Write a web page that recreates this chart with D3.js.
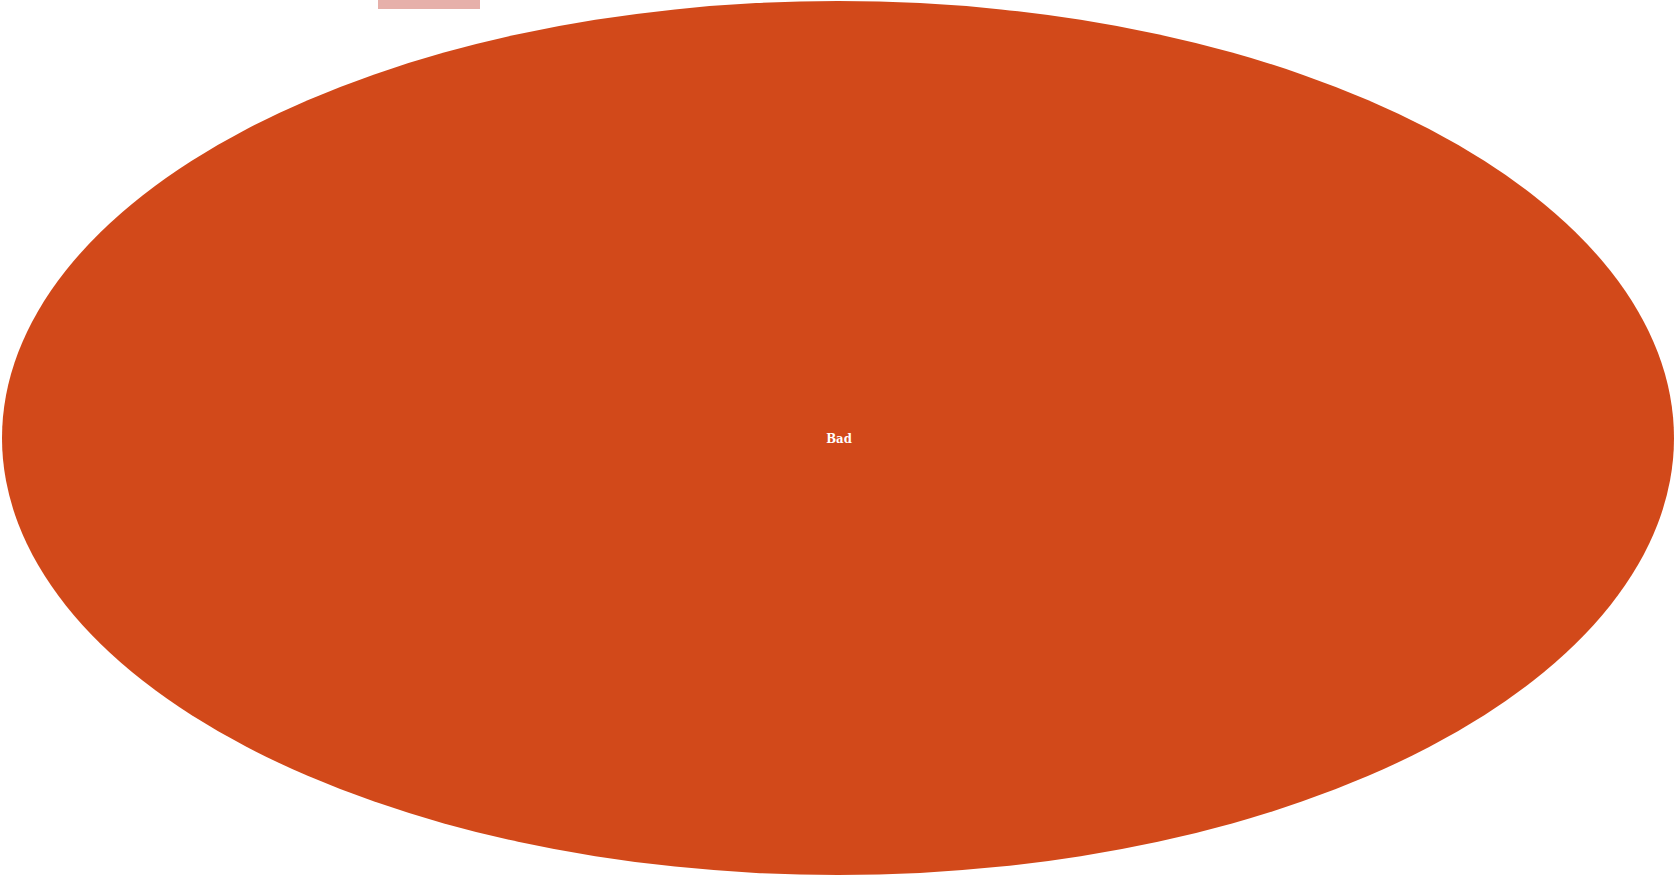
<!DOCTYPE html>
<html>
<head>
<meta charset="utf-8">
<script src="https://cdn.jsdelivr.net/npm/d3@7"></script>
<style>
  html, body { margin: 0; padding: 0; background: #fff; overflow: hidden; }
  svg { display: block; }
</style>
</head>
<body>
<svg width="1678" height="876"></svg>
<script>
var categories = ['Bad']
var values = [1]
var colors = ['#d2491a']
var legendColor = '#e6b0aa'

var cx = 838
var cy = 438
var rx = 836
var ry = 437

var svg = d3.select('svg')

// legend swatch, mostly clipped at the top edge
svg.append('rect')
  .attr('x', 378)
  .attr('y', -10)
  .attr('width', 102)
  .attr('height', 19)
  .attr('fill', legendColor)

var pie = d3.pie().sort(null)
var arcs = pie(values)
var arc = d3.arc().innerRadius(0).outerRadius(1)

var g = svg.append('g')
  .attr('transform', 'translate(' + cx + ',' + cy + ')')

g.append('g')
  .attr('transform', 'scale(' + rx + ',' + ry + ')')
  .selectAll('path')
  .data(arcs)
  .enter()
  .append('path')
  .attr('d', arc)
  .attr('fill', function(d, i) { return colors[i] })

g.selectAll('text')
  .data(arcs)
  .enter()
  .append('text')
  .attr('x', function(d) {
    if (arcs.length === 1) return 1
    return arc.centroid(d)[0] * rx
  })
  .attr('y', function(d) {
    if (arcs.length === 1) return 0
    return arc.centroid(d)[1] * ry
  })
  .attr('dy', '0.35em')
  .attr('text-anchor', 'middle')
  .attr('fill', '#fff')
  .attr('font-family', '"DejaVu Serif Condensed", "DejaVu Serif", serif')
  .attr('font-stretch', 'condensed')
  .attr('font-weight', 'bold')
  .attr('font-size', 13)
  .text(function(d, i) { return categories[i] })
</script>
</body>
</html>
